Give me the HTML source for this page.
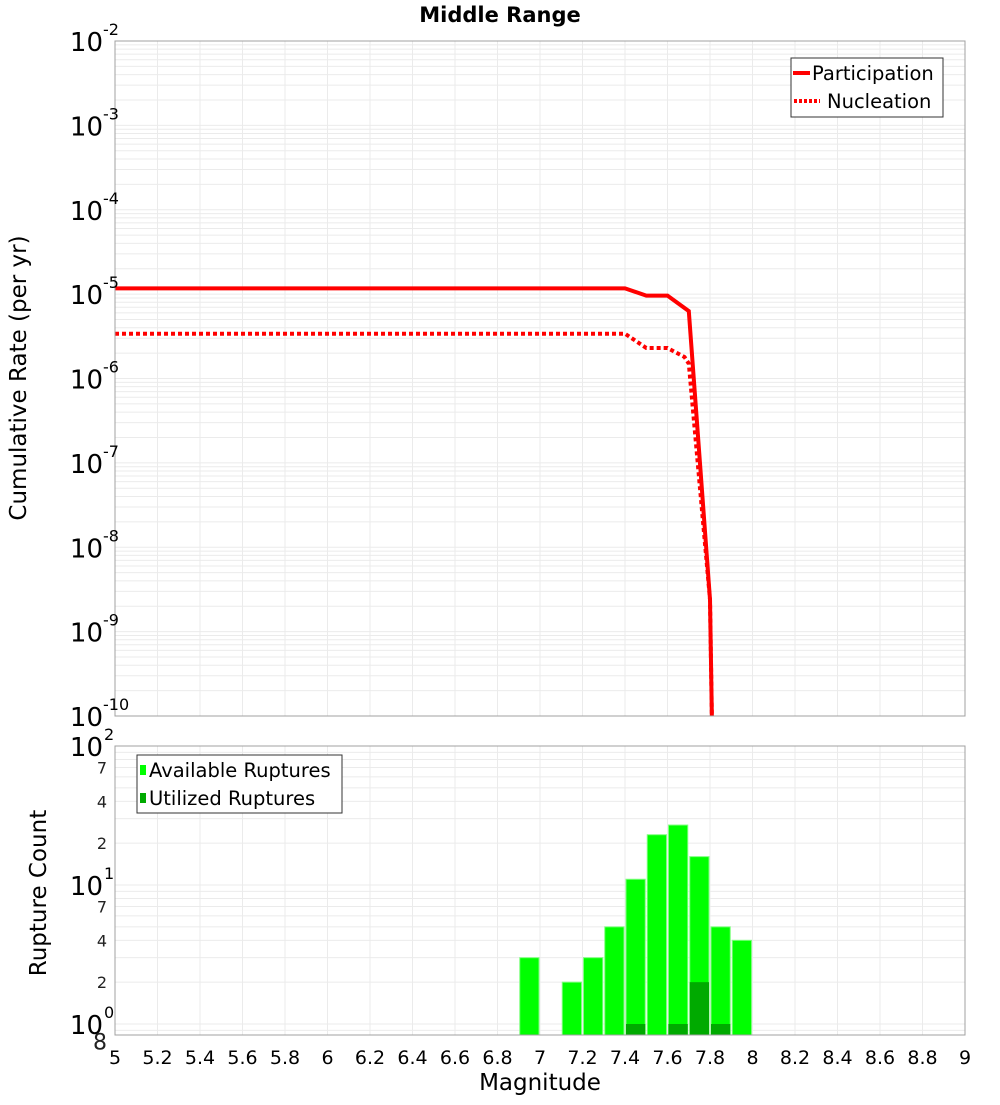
<!DOCTYPE html>
<html><head><meta charset="utf-8"><style>
body{margin:0;background:#fff;}
svg text{font-family:"DejaVu Sans","Liberation Sans",sans-serif;}
</style></head><body>
<svg id="c" width="1000" height="1100" xmlns="http://www.w3.org/2000/svg"></svg>
<script>
const partM=[5.0,7.4,7.5,7.6,7.7,7.8,7.815];
const partV=[1.17e-5,1.17e-5,9.6e-6,9.6e-6,6.3e-6,2.4e-9,1e-11];
const nuclM=[5.0,7.4,7.5,7.6,7.68,7.7,7.8,7.815];
const nuclV=[3.4e-6,3.4e-6,2.3e-6,2.3e-6,1.8e-6,1.5e-6,2.4e-9,1e-11];
const binM=[6.9,7.1,7.2,7.3,7.4,7.5,7.6,7.7,7.8,7.9];
const availV=[3,2,3,5,11,23,27,16,5,4];
const utilM=[7.4,7.6,7.7,7.8];
const utilV=[1,1,2,1];
const xTicks=[5,5.2,5.4,5.6,5.8,6,6.2,6.4,6.6,6.8,7,7.2,7.4,7.6,7.8,8,8.2,8.4,8.6,8.8,9];
const topExp=[-2,-3,-4,-5,-6,-7,-8,-9,-10];
const botMinor=[{v:70,t:'7'},{v:40,t:'4'},{v:20,t:'2'},{v:7,t:'7'},{v:4,t:'4'},{v:2,t:'2'},{v:0.8,t:'8'}];

const S='http://www.w3.org/2000/svg',svg=document.getElementById('c');
function el(tag,a,txt){const e=document.createElementNS(S,tag);for(const k in a)e.setAttribute(k,a[k]);if(txt!=null)e.textContent=txt;svg.appendChild(e);return e;}
const L=115,R=965,T1=41,B1=716,T2=746,B2=1035;
const X=m=>L+(m-5)/4*(R-L);
const Y1=v=>T1+(-2-Math.log10(v))*(B1-T1)/8;
const Y2=v=>T2+(2-Math.log10(v))*139;
const clipT=el('clipPath',{id:'ct'});const cr=document.createElementNS(S,'rect');cr.setAttribute('x',L);cr.setAttribute('y',T1);cr.setAttribute('width',R-L);cr.setAttribute('height',B1-T1);clipT.appendChild(cr);

for(let e=-10;e<-2;e++)for(let k=1;k<10;k++){const y=Y1(k*Math.pow(10,e));const g=el('line',{x1:L,x2:R,y1:y,y2:y,stroke:'#ebebeb','stroke-width':1});}
for(let e=-1;e<2;e++)for(let k=1;k<10;k++){const v=k*Math.pow(10,e);if(v<0.83)continue;const y=Y2(v);const g=el('line',{x1:L,x2:R,y1:y,y2:y,stroke:'#ebebeb','stroke-width':1});}
xTicks.forEach(t=>{const x=X(t);
 const a=el('line',{x1:x,x2:x,y1:T1,y2:B1,stroke:'#ebebeb'});
 const b=el('line',{x1:x,x2:x,y1:T2,y2:B2,stroke:'#ebebeb'});
 const l=el('text',{x:x,y:1064,'font-size':19,'text-anchor':'middle',fill:'#000'},String(t));});

function path(ms,vs){return ms.map((m,i)=>(i?'L':'M')+X(m).toFixed(1)+','+Y1(vs[i]).toFixed(1)).join(' ');}
const p1=el('path',{d:path(partM,partV),fill:'none',stroke:'#ff0000','stroke-width':4,'clip-path':'url(#ct)'});
const p2=el('path',{d:path(nuclM,nuclV),fill:'none',stroke:'#ff0000','stroke-width':4,'stroke-dasharray':'4,3','clip-path':'url(#ct)'});

const bw=(X(5.1)-X(5))-2;
binM.forEach((m,i)=>{const x=X(m)+1,y=Y2(availV[i]);const r=el('rect',{x:x,y:y,width:bw,height:B2-y,fill:'#00ff00',stroke:'#7fff7f','stroke-width':1});});
utilM.forEach((m,i)=>{const x=X(m)+1,y=Y2(utilV[i]);const r=el('rect',{x:x,y:y,width:bw,height:B2-y,fill:'#00aa00'});});

const f1=el('rect',{x:L,y:T1,width:R-L,height:B1-T1,fill:'none',stroke:'#a0a0a0'});
const f2=el('rect',{x:L,y:T2,width:R-L,height:B2-T2,fill:'none',stroke:'#a0a0a0'});

topExp.forEach(e=>{const y=Y1(Math.pow(10,e));const t=el('text',{x:103,y:y+10,'font-size':26,'text-anchor':'end',fill:'#000'},'10');
 const s=el('text',{x:103,y:y-6,'font-size':16,fill:'#000'},String(e));});
[2,1,0].forEach(e=>{const y=Y2(Math.pow(10,e));const t=el('text',{x:103,y:y+10,'font-size':26,'text-anchor':'end',fill:'#000'},'10');
 const s=el('text',{x:104,y:y-6,'font-size':16,fill:'#000'},String(e));});
botMinor.forEach(o=>{const y=Y2(o.v);const t=el('text',{x:107,y:y+(o.v<1?12:6),'font-size':o.v<1?22:16,'text-anchor':'end',fill:'#222'},o.t);});

let t=el('text',{x:500,y:22,'font-size':21,'font-weight':'bold','text-anchor':'middle'},'Middle Range');
t=el('text',{x:540,y:1090,'font-size':23,'text-anchor':'middle'},'Magnitude');
t=el('text',{x:0,y:0,'font-size':23,'text-anchor':'middle',transform:'translate(26,378) rotate(-90)'},'Cumulative Rate (per yr)');
t=el('text',{x:0,y:0,'font-size':23,'text-anchor':'middle',transform:'translate(46,893) rotate(-90)'},'Rupture Count');

let g=el('rect',{x:791,y:58,width:152,height:59,fill:'#fff',stroke:'#333'});
g=el('line',{x1:793,x2:810,y1:73,y2:73,stroke:'#f00','stroke-width':4});
g=el('text',{x:812,y:80,'font-size':19.5},'Participation');
g=el('line',{x1:794,x2:820,y1:101,y2:101,stroke:'#f00','stroke-width':4,'stroke-dasharray':'3,2'});
g=el('text',{x:827,y:108,'font-size':19.5},'Nucleation');
g=el('rect',{x:137,y:755,width:205,height:58,fill:'#fff',stroke:'#333'});
g=el('rect',{x:140,y:765,width:6,height:10,fill:'#00ff00'});
g=el('text',{x:149,y:777,'font-size':19.5},'Available Ruptures');
g=el('rect',{x:140,y:793,width:6,height:10,fill:'#00aa00'});
g=el('text',{x:149,y:805,'font-size':19.5},'Utilized Ruptures');
</script>
</body></html>
